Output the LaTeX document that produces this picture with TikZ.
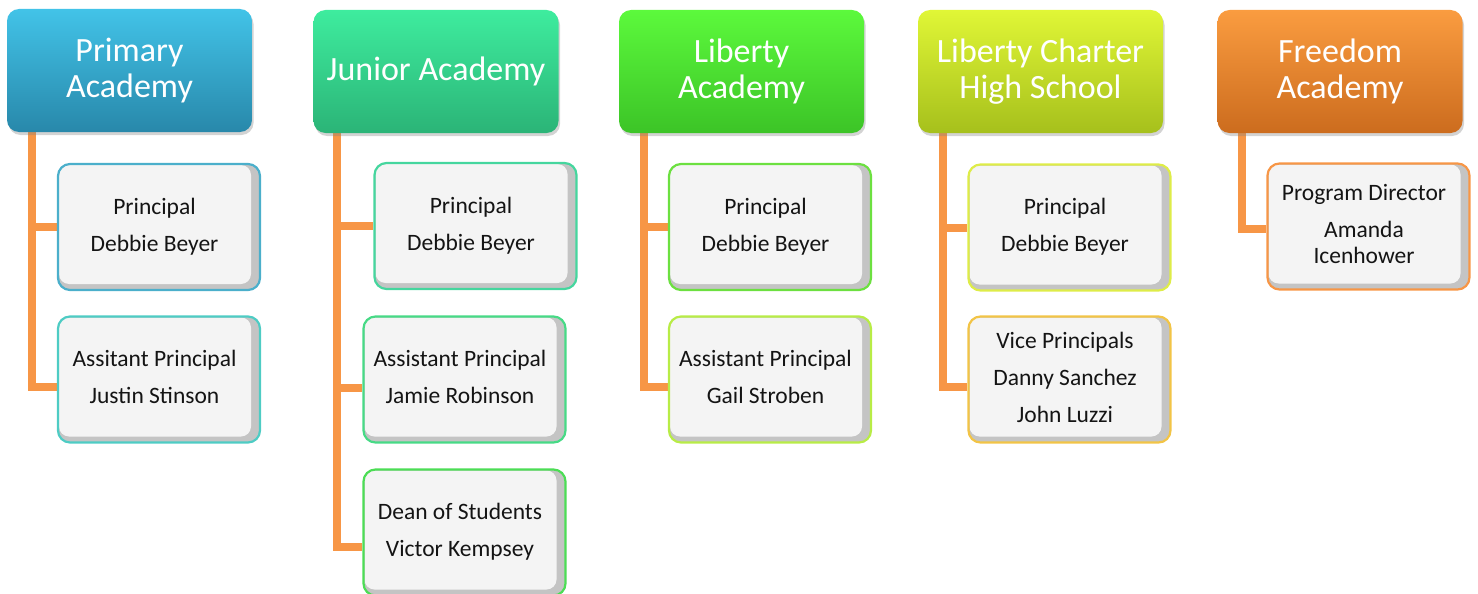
\documentclass[tikz,border=0pt]{standalone}
\usepackage{fontspec}
\setmainfont{Carlito}
\usetikzlibrary{shadows,backgrounds}
\definecolor{connorange}{HTML}{F79646}
\definecolor{cardshade}{HTML}{C4C4C4}
\definecolor{cardface}{HTML}{F4F4F4}
\definecolor{paT}{HTML}{42C3E8}\definecolor{paM}{HTML}{37AED4}\definecolor{paB}{HTML}{2888AA}
\definecolor{jaT}{HTML}{3EEC9E}\definecolor{jaM}{HTML}{35D690}\definecolor{jaB}{HTML}{2BB477}
\definecolor{laT}{HTML}{5CF93C}\definecolor{laM}{HTML}{4FE734}\definecolor{laB}{HTML}{3CC427}
\definecolor{lcT}{HTML}{E0F636}\definecolor{lcM}{HTML}{CFE82A}\definecolor{lcB}{HTML}{A6C01C}
\definecolor{faT}{HTML}{FA9C40}\definecolor{faM}{HTML}{EE8A32}\definecolor{faB}{HTML}{CC6C1E}
\definecolor{bPA}{HTML}{4BAFCB}\definecolor{bPB}{HTML}{4ECCC4}
\definecolor{bJA}{HTML}{45D69E}\definecolor{bJB}{HTML}{47DA86}\definecolor{bJC}{HTML}{4CDD55}
\definecolor{bLA}{HTML}{6CE040}\definecolor{bLB}{HTML}{B8EC46}
\definecolor{bCA}{HTML}{DEEC48}\definecolor{bCB}{HTML}{F2C446}
\definecolor{bFA}{HTML}{F79646}
\newcommand\cardtxt[1]{\raisebox{1.5pt}[\height][\depth]{\begin{tabular}{@{}c@{}}#1\end{tabular}}\rule{9pt}{0pt}}
\begin{document}
\begin{tikzpicture}[x=1pt,y=-1pt,
  head/.style n args={3}{rounded corners=12pt, minimum width=245pt, minimum height=123pt,
    inner sep=0pt, text=white, align=center, font=\fontsize{34}{36}\selectfont,
    top color=#1, middle color=#2, bottom color=#3,
    drop shadow={shadow xshift=1.5pt,shadow yshift=-3pt,opacity=0.35}},
  card/.style={draw=#1, line width=2.2pt, rounded corners=12pt, fill=cardshade,
    minimum width=202pt, minimum height=126pt, inner sep=0pt,
    font=\fontsize{23.5}{37}\selectfont, text=black!92,
    path picture={\fill[cardface,rounded corners=10pt]
      ([xshift=1pt,yshift=-1pt]path picture bounding box.north west) rectangle
      ([xshift=-9pt,yshift=6pt]path picture bounding box.south east);}},
  conn/.style={draw=connorange, line width=8pt}
]
\useasboundingbox (0,0) rectangle (1478,594);

% headers
\node[head={paT}{paM}{paB}] (ha) at (129.5,70.5) {Primary\\Academy};
\node[head={jaT}{jaM}{jaB}] (hj) at (436,71.5) {Junior Academy};
\node[head={laT}{laM}{laB}] (hl) at (741.5,71.5) {Liberty\\Academy};
\node[head={lcT}{lcM}{lcB}] (hc) at (1040.5,71.5) {Liberty Charter\\High School};
\node[head={faT}{faM}{faB}] (hf) at (1340,71.5) {Freedom\\Academy};

% cards
\node[card=bPA] (pa1) at (159,227) {\cardtxt{Principal\\Debbie Beyer}};
\node[card=bPB] (pa2) at (159,379.5) {\cardtxt{Assitant Principal\\Justin Stinson}};
\node[card=bJA] (ja1) at (475.5,226) {\cardtxt{Principal\\Debbie Beyer}};
\node[card=bJB] (ja2) at (464.5,379.5) {\cardtxt{Assistant Principal\\Jamie Robinson}};
\node[card=bJC] (ja3) at (464.5,532.5) {\cardtxt{Dean of Students\\Victor Kempsey}};
\node[card=bLA] (la1) at (770,227) {\cardtxt{Principal\\Debbie Beyer}};
\node[card=bLB] (la2) at (770,379.5) {\cardtxt{Assistant Principal\\Gail Stroben}};
\node[card=bCA] (lc1) at (1069.5,227.5) {\cardtxt{Principal\\Debbie Beyer}};
\node[card=bCB] (lc2) at (1069.5,379.5) {\cardtxt{Vice Principals\\Danny Sanchez\\John Luzzi}};
\node[card=bFA] (fa1) at (1368.5,226.5) {\cardtxt{Program Director\\Amanda\\[-11pt]Icenhower}};

% connectors
\coordinate (ta) at ([xshift=25pt]ha.south west);
\coordinate (tj) at ([xshift=24pt]hj.south west);
\coordinate (tl) at ([xshift=25pt]hl.south west);
\coordinate (tc) at ([xshift=25pt]hc.south west);
\coordinate (tf) at ([xshift=25pt]hf.south west);
\begin{scope}[on background layer]
\draw[conn] (ta) |- (pa1.west);
\draw[conn] (ta) |- ([yshift=-7pt]pa2.west);
\draw[conn] (tj) |- (ja1.west);
\draw[conn] (tj) |- ([yshift=-8pt]ja2.west);
\draw[conn] (tj) |- ([yshift=-14.5pt]ja3.west);
\draw[conn] (tl) |- (la1.west);
\draw[conn] (tl) |- ([yshift=-7pt]la2.west);
\draw[conn] (tc) |- (lc1.west);
\draw[conn] (tc) |- ([yshift=-7pt]lc2.west);
\draw[conn] (tf) |- ([yshift=-2pt]fa1.west);
\end{scope}
\end{tikzpicture}
\end{document}
